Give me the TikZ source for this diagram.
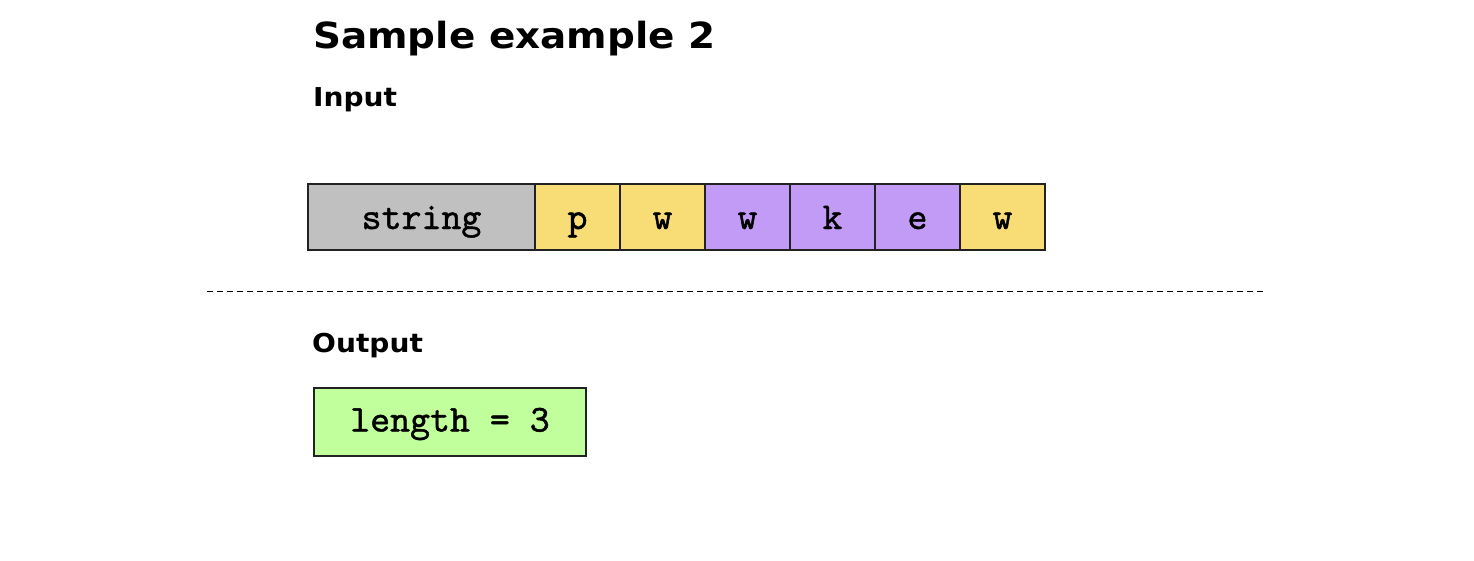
\documentclass[tikz,border=0pt]{standalone}
\usepackage{fontspec}
\setmainfont{DejaVu Sans}
\newfontfamily\headfont[FakeStretch=1.08]{DejaVu Sans Bold}
\newfontfamily\cellfont[FakeBold=1.2]{lmmono10-regular.otf}
\definecolor{cgray}{HTML}{C0C0C0}
\definecolor{cyellow}{HTML}{F8DC75}
\definecolor{cpurple}{HTML}{C29BF7}
\definecolor{cgreen}{HTML}{C0FF9C}
\definecolor{cborder}{HTML}{222222}
\tikzset{
  cell/.style={draw=cborder, line width=1.5pt},
  celltext/.style={anchor=base, inner sep=0pt, font=\cellfont\fontsize{38}{38}\selectfont},
  heading/.style={anchor=base west, inner sep=0pt, font=\headfont\fontsize{26}{26}\selectfont},
}
\begin{document}
\begin{tikzpicture}[x=1pt,y=-1pt]
\useasboundingbox[fill=white] (0,0) rectangle (1474,560);
\node[anchor=base west, inner sep=0pt, font=\headfont\fontsize{36}{36}\selectfont] (title) at (313,48) {Sample example 2};
\node[heading] (input) at (313,106) {Input};
\path[cell, fill=cgray] (308,184) rectangle (535,250);
\node[celltext] (s) at (421.5,229) {string};
\foreach \i/\c/\t in {0/cyellow/p,1/cyellow/w,2/cpurple/w,3/cpurple/k,4/cpurple/e,5/cyellow/w}{
  \path[cell, fill=\c] ({535+85*\i},184) rectangle ({620+85*\i},250);
  \node[celltext] (c\i) at ({577.5+85*\i},229) {\t};
}
\coordinate (dl) at (207,291);
\coordinate (dr) at (1265,291);
\draw[dash pattern=on 6pt off 4pt, line width=1pt] (dl) -- (dr);
\node[heading] (output) at (312,352) {Output};
\path[cell, fill=cgreen] (314,388) rectangle (586,456);
\node[celltext] (res) at (450,431.5) {length = 3};
\end{tikzpicture}
\end{document}
